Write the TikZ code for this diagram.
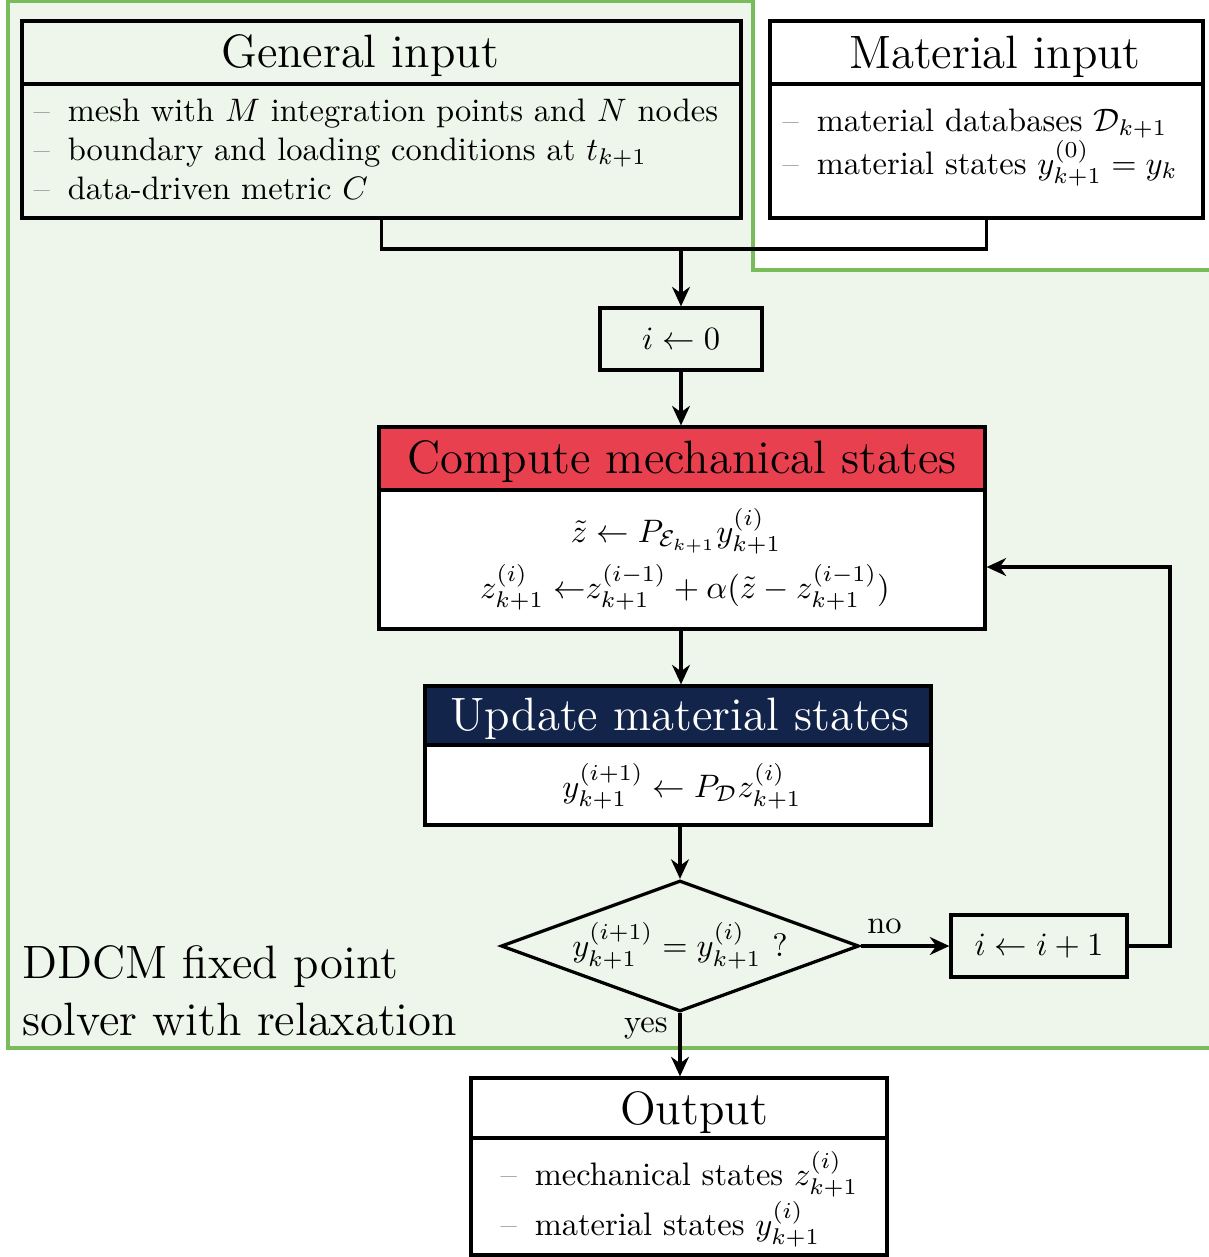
\documentclass[tikz,border=0pt]{standalone}
\usetikzlibrary{arrows.meta,shapes.geometric,fit}
\definecolor{bggreen}{HTML}{EEF5EA}
\definecolor{framegreen}{HTML}{78BC5C}
\definecolor{headred}{HTML}{E8404F}
\definecolor{headnavy}{HTML}{13244A}
\newcommand\pxu{0.30769pt}
\newcommand\itemdash{\textcolor{black!45}{--}\hspace{5.5pt}}
\begin{document}
\begin{tikzpicture}[x=0.30769pt, y=-0.30769pt,
  box/.style={draw=black, line width=1pt, inner sep=0pt},
  arr/.style={line width=1pt, -{Stealth[length=6pt,width=5.5pt]}},
  conn/.style={line width=1pt},
  title/.style={font=\Large, anchor=base},
  item/.style={anchor=base west, inner sep=0pt},
  eq/.style={anchor=base, inner sep=0pt},
]
\useasboundingbox (0,0) rectangle (1208,1257);

% background region
\filldraw[fill=bggreen, draw=framegreen, line width=1pt]
  (8,1.5) -- (753,1.5) -- (753,270) -- (1215,270) -- (1215,1048) -- (8,1048) -- cycle;

% General input
\node[box, fill=bggreen, fit={(22,21) (741,84)}] (gen-t) {};
\node[box, fill=bggreen, fit={(22,84) (741,218)}] (gen) {};
\node[title] (gen-title) at (360,67) {General input};
\node[item] (gen-l1) at (33,121) {\itemdash mesh with $M$ integration points and $N$ nodes};
\node[item] (gen-l2) at (33,160) {\itemdash boundary and loading conditions at $t_{k+1}$};
\node[item] (gen-l3) at (33,199) {\itemdash data-driven metric $C$};

% Material input
\node[box, fill=white, fit={(770,21) (1203,84)}] (mat-t) {};
\node[box, fill=white, fit={(770,84) (1203,218)}] (mat) {};
\node[title] (mat-title) at (995,68) {Material input};
\node[item] (mat-l1) at (782,131) {\itemdash material databases $\mathcal{D}_{k+1}$};
\node[item] (mat-l2) at (782,174) {\itemdash material states $y^{(0)}_{k+1} = y_k$};

% join
\coordinate (join) at (681,249);
\draw[conn] (gen.south) |- (join) -| (mat.south);

% init
\node[box, fill=bggreen, minimum width={162*\pxu}, minimum height={62*\pxu}] (init) at (681,339) {$i \leftarrow 0$};
\draw[arr] (join) -- (join |- init.north);

% Compute mechanical states
\node[box, fill=headred, fit={(379,427) (985,490)}] (comp-t) {};
\node[box, fill=white, fit={(379,490) (985,629)}] (comp) {};
\node[title] (comp-title) at (682,473) {Compute mechanical states};
\node[eq] (comp-l1) at (676,542) {$\tilde z \leftarrow P_{\mathcal{E}_{k+1}} y^{(i)}_{k+1}$};
\node[eq] (comp-l2) at (685,598) {$z^{(i)}_{k+1} \;{\leftarrow}z^{(i-1)}_{k+1} + \alpha(\tilde z - z^{(i-1)}_{k+1})$};
\draw[arr] (init.south) -- (init.south |- comp-t.north);

% Update material states
\node[box, fill=headnavy, fit={(425,686) (931,745)}] (upd-t) {};
\node[box, fill=white, fit={(425,745) (931,825)}] (upd) {};
\node[title, text=white] (upd-title) at (680,730) {Update material states};
\node[eq] (upd-l1) at (682,797) {$y^{(i+1)}_{k+1} \leftarrow P_{\mathcal{D}} z^{(i)}_{k+1}$};
\draw[arr] (init.south |- comp.south) -- (init.south |- upd-t.north);

% decision
\node[draw=black, line width=1pt, diamond, aspect=2.7, inner sep=0pt,
  minimum width={358*\pxu}, minimum height={131*\pxu}, fill=bggreen]
  (dia) at (680,946) {$y^{(i+1)}_{k+1} = y^{(i)}_{k+1}$ ?};
\draw[arr] (dia.north |- upd.south) -- (dia.north);

% increment
\node[box, fill=bggreen, minimum width={176*\pxu}, minimum height={62*\pxu}] (inc) at (1039,946) {$i \leftarrow i+1$};
\draw[arr] (dia.east) -- node[above, pos=0.27] (no) {no} (inc.west);
\coordinate (back) at (1170,567);
\draw[arr] (inc.east) -| (back) -- (back -| comp.east);

% Output
\node[box, fill=white, fit={(471,1078) (887,1138)}] (out-t) {};
\node[box, fill=white, fit={(471,1138) (887,1255)}] (out) {};
\node[title] (out-title) at (694,1124) {Output};
\node[item] (out-l1) at (500,1185) {\itemdash mechanical states $z^{(i)}_{k+1}$};
\node[item] (out-l2) at (500,1235) {\itemdash material states $y^{(i)}_{k+1}$};
\draw[arr] (dia.south) -- node[left, pos=0.24] (yes) {yes} (dia.south |- out-t.north);

% label
\node[anchor=base west, font=\Large, inner sep=0pt] (ddcm1) at (22,978) {DDCM fixed point};
\node[anchor=base west, font=\Large, inner sep=0pt] (ddcm2) at (22,1035) {solver with relaxation};
\end{tikzpicture}
\end{document}
